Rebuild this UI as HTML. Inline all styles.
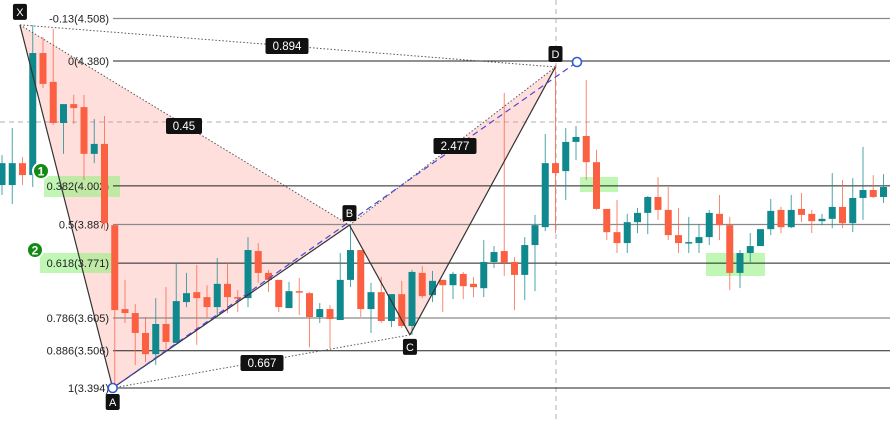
<!DOCTYPE html>
<html><head><meta charset="utf-8"><style>
html,body{margin:0;padding:0;background:#fff;width:890px;height:421px;overflow:hidden}
svg text{font-family:"Liberation Sans",sans-serif}
</style></head><body>
<svg id="chart" width="890" height="421" viewBox="0 0 890 421" xmlns="http://www.w3.org/2000/svg"></svg>
<script>
const opens=[4.006,4.006,4.072,4.036,4.404,4.317,4.193,4.250,4.241,4.100,4.130,3.885,3.632,3.620,3.560,3.496,3.587,3.530,3.653,3.683,3.668,3.638,3.708,3.668,3.665,3.807,3.741,3.720,3.635,3.686,3.680,3.608,3.632,3.599,3.720,3.810,3.632,3.683,3.596,3.677,3.581,3.741,3.674,3.720,3.704,3.738,3.708,3.695,3.774,3.807,3.774,3.735,3.825,3.879,4.072,4.048,4.136,4.154,4.075,3.934,3.864,3.831,3.894,3.922,3.970,3.931,3.855,3.831,3.831,3.849,3.919,3.885,3.741,3.801,3.822,3.873,3.931,3.879,3.934,3.919,3.897,3.904,3.940,3.891,3.967,3.991,3.970];
const highs=[4.096,4.178,4.090,4.489,4.452,4.477,4.250,4.278,4.278,4.205,4.214,3.885,3.720,3.647,3.608,3.665,3.698,3.771,3.741,3.765,3.704,3.786,3.771,3.689,3.849,3.831,3.750,3.720,3.714,3.726,3.683,3.650,3.644,3.801,3.885,3.810,3.711,3.729,3.677,3.717,3.750,3.762,3.747,3.720,3.744,3.744,3.729,3.840,3.822,4.284,3.789,3.849,3.916,4.160,4.368,4.178,4.184,4.323,4.112,3.934,3.961,3.919,3.937,3.973,4.030,4.000,3.937,3.910,3.888,3.931,3.976,3.910,3.810,3.861,3.873,3.964,3.940,3.976,3.982,3.931,3.919,4.042,4.021,4.027,4.121,4.036,4.039];
const lows=[3.976,3.949,4.006,4.000,4.299,4.187,4.100,4.190,4.021,4.072,3.870,3.394,3.590,3.463,3.472,3.463,3.502,3.530,3.638,3.524,3.605,3.608,3.620,3.623,3.638,3.711,3.683,3.623,3.635,3.614,3.517,3.590,3.514,3.599,3.698,3.608,3.560,3.590,3.578,3.575,3.554,3.665,3.653,3.623,3.662,3.662,3.668,3.668,3.756,3.732,3.629,3.659,3.686,3.867,3.861,3.961,4.081,4.021,3.931,3.840,3.801,3.801,3.861,3.858,3.901,3.840,3.801,3.801,3.801,3.825,3.840,3.689,3.695,3.774,3.822,3.855,3.861,3.876,3.894,3.861,3.885,3.876,3.876,3.864,3.901,3.967,3.952];
const closes=[4.072,4.072,4.036,4.404,4.311,4.193,4.250,4.238,4.100,4.130,3.891,3.629,3.620,3.560,3.496,3.587,3.533,3.656,3.680,3.665,3.638,3.708,3.668,3.665,3.810,3.741,3.720,3.638,3.686,3.683,3.608,3.632,3.602,3.720,3.810,3.632,3.683,3.596,3.677,3.581,3.744,3.671,3.717,3.704,3.738,3.701,3.698,3.774,3.804,3.771,3.735,3.825,3.885,4.072,4.042,4.136,4.151,4.075,3.934,3.864,3.831,3.894,3.922,3.970,3.931,3.855,3.831,3.834,3.849,3.922,3.885,3.741,3.801,3.822,3.873,3.928,3.879,3.931,3.916,3.897,3.904,3.940,3.891,3.967,3.991,3.970,4.000];
const fibRatios=[-0.13,0,0.382,0.5,0.618,0.786,0.886,1];
const fibLabels=["-0.13(4.508)","0(4.380)","0.382(4.002)","0.5(3.887)","0.618(3.771)","0.786(3.605)","0.886(3.506)","1(3.394)"];
const pointNames=["X","A","B","C","D"];
const pointIdx=[1.75,10.8,33.9,39.8,54];
const pointPrice=[4.489,3.394,3.885,3.554,4.362];
const ratioTexts=["0.894","0.45","2.477","0.667"];

const NS="http://www.w3.org/2000/svg";
const svg=document.getElementById('chart');
const P0=4.380,P1=3.394,Y0=61,Y1=388;
function y(p){return Y0+(P0-p)*(Y1-Y0)/(P0-P1);}
function x(i){return 2+10.25*i;}
function el(tag,attrs,parent){const e=document.createElementNS(NS,tag);for(const k in attrs)e.setAttribute(k,attrs[k]);(parent||svg).appendChild(e);return e;}

// crosshair
let e=el('line',{x1:0,x2:890,y1:122,y2:122,stroke:'#b0b0b0','stroke-dasharray':'5,4'});


e=el('line',{x1:556,x2:556,y1:0,y2:421,stroke:'#b0b0b0','stroke-dasharray':'5,4'});



// pattern fills
const pts=pointIdx.map((v,k)=>[x(v),y(pointPrice[k])]);
e=el('polygon',{points:[pts[0],pts[1],pts[2]].map(p=>p.join(',')).join(' '),fill:'rgba(250,140,130,0.28)'});


e=el('polygon',{points:[pts[2],pts[3],pts[4]].map(p=>p.join(',')).join(' '),fill:'rgba(250,140,130,0.28)'});



// green zones
const zones=[[44,176,76,21],[40,253,77,20],[580,177,38,15],[706,253,59,23]];
zones.forEach((z,k)=>{const r=el('rect',{x:z[0],y:z[1],width:z[2],height:z[3],fill:'rgba(140,240,120,0.55)'});

});

// fib lines
fibRatios.forEach((r,k)=>{const p=P0-r*(P0-P1);const yy=y(p);
const gray=(k===0||k===3||k===5);
const l=el('line',{x1:113,x2:890,y1:yy,y2:yy,stroke:gray?'#8a8a8a':'#222','stroke-width':gray?1.3:1});


const t=el('text',{x:109,y:yy+4,'text-anchor':'end','font-size':11,fill:'#222'});t.textContent=fibLabels[k];

});

// candles
const g=el('g',{});


opens.forEach((o,i)=>{const c=closes[i];const up=c>=o;const col=up?'#10898e':'#fb6042';
const cx=x(i);
const w=el('line',{x1:cx,x2:cx,y1:y(highs[i]),y2:y(lows[i]),stroke:col,'stroke-width':1,opacity:0.75},g);


const t=Math.min(y(o),y(c)),h=Math.max(1.5,Math.abs(y(o)-y(c)));
const b=el('rect',{x:cx-3.5,y:t,width:7,height:h,fill:col},g);

});

// pattern lines
function seg(a,b,dash,col,name,wd){const l=el('line',{x1:a[0],y1:a[1],x2:b[0],y2:b[1],stroke:col,'stroke-width':wd||1});if(dash)l.setAttribute('stroke-dasharray',dash);

}
seg(pts[0],pts[1],null,'#333','leg-xa',1.2);
seg(pts[1],pts[2],null,'#333','leg-ab',1.2);
seg(pts[2],pts[3],null,'#333','leg-bc',1.2);
seg(pts[3],pts[4],null,'#333','leg-cd',1.2);
seg(pts[0],pts[2],'1.5,2','#555','line-xb');
seg(pts[2],pts[4],'1.5,2','#555','line-bd');
seg(pts[0],pts[4],'1.5,2','#555','line-xd');
seg(pts[1],pts[3],'1.5,2','#555','line-ac');
seg(pts[1],[577,62],'6,4','#4a4ad8','projection-line',1.2);
[pts[1],[577,62]].forEach(p=>{const c=el('circle',{cx:p[0],cy:p[1],r:4.5,fill:'#fff',stroke:'#2f5bd8','stroke-width':1.6});

});

// ratio labels
const rpos=[[287,46],[184,126],[455,146],[262,363]];
ratioTexts.forEach((s,k)=>{const w=s.length*7+8;
const r=el('rect',{x:rpos[k][0]-w/2,y:rpos[k][1]-8,width:w,height:16,rx:2,fill:'#111'});


const t=el('text',{x:rpos[k][0],y:rpos[k][1]+4,'text-anchor':'middle','font-size':11.5,fill:'#fff'});t.textContent=s;

});

// point labels
const off=[-13,14,-12,12,-13];
pointNames.forEach((n,k)=>{const cx=pts[k][0],cy=pts[k][1]+off[k];
const r=el('rect',{x:cx-7,y:cy-8,width:14,height:16,rx:2,fill:'#111'});


const t=el('text',{x:cx,y:cy+4,'text-anchor':'middle','font-size':11,fill:'#fff'});t.textContent=n;

});

// numbered markers
[[41,171,'1'],[35,250,'2']].forEach(m=>{const c=el('circle',{cx:m[0],cy:m[1],r:8,fill:'#138a13',stroke:'#fff','stroke-width':2});


const t=el('text',{x:m[0],y:m[1]+4.5,'text-anchor':'middle','font-size':12,'font-weight':'bold',fill:'#fff'});t.textContent=m[2];

});
</script>
</body></html>
